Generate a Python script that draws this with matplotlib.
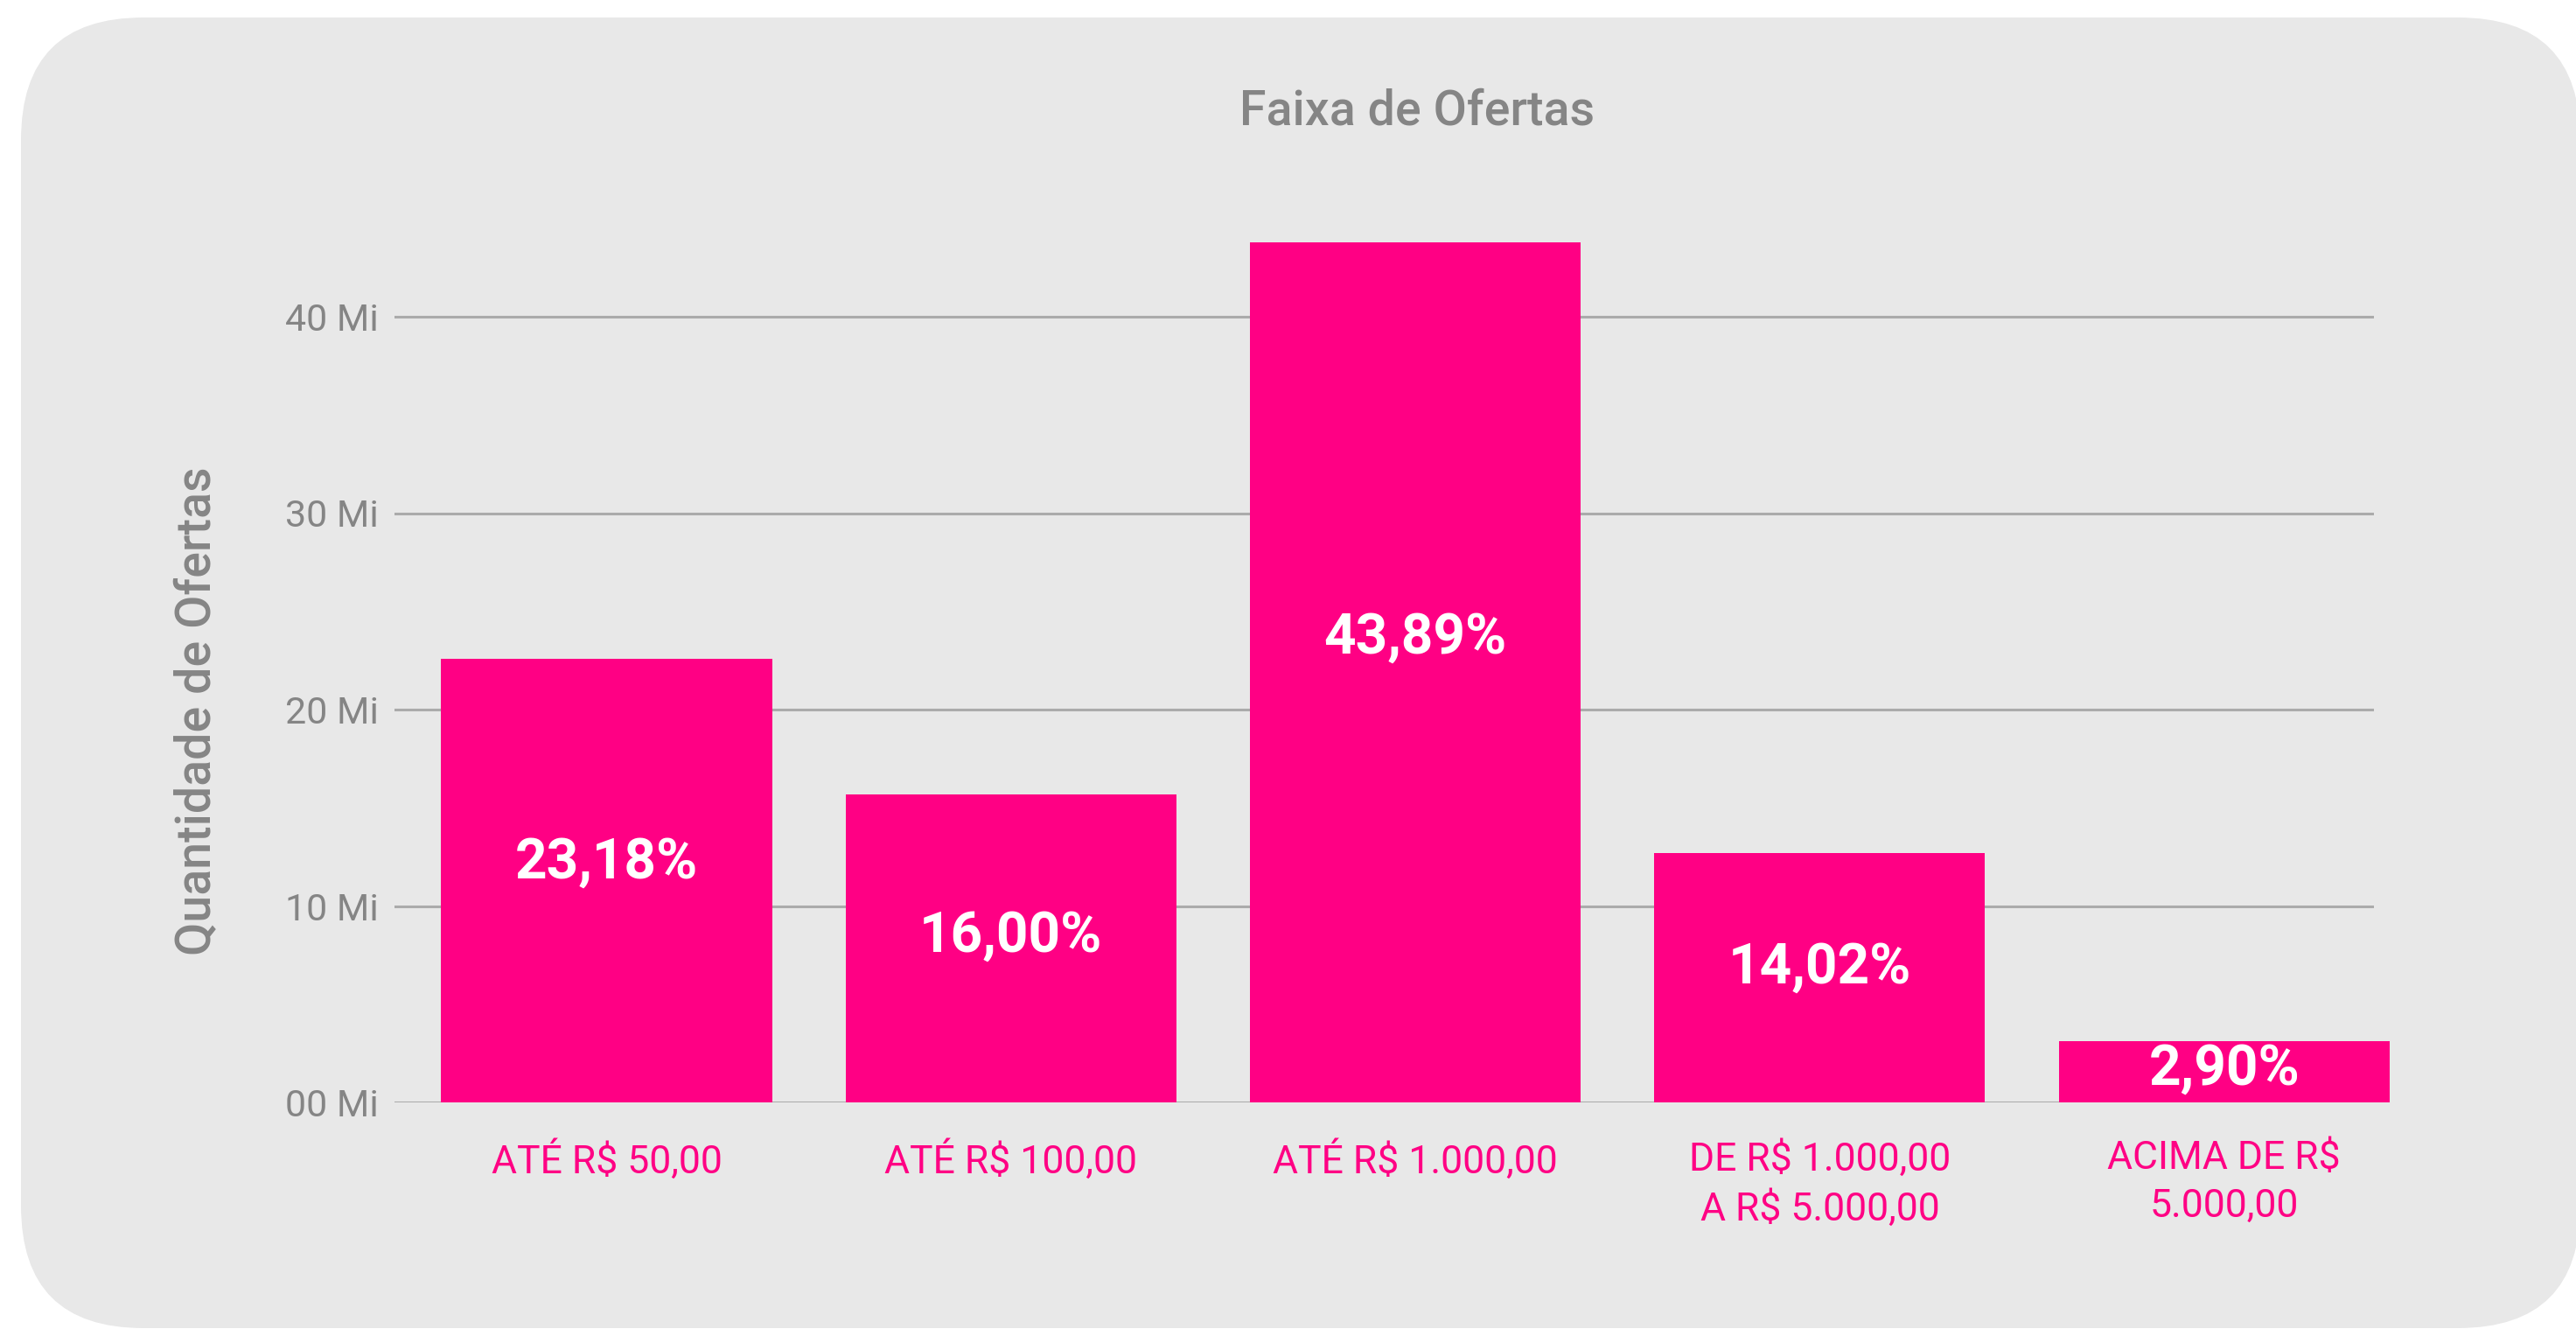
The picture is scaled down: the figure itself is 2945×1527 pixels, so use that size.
import matplotlib.pyplot as plt
from matplotlib.patches import FancyBboxPatch

# Dados
faixas = ["ATÉ R$ 50,00", "ATÉ R$ 100,00", "ATÉ R$ 1.000,00",
          "DE R$ 1.000,00\nA R$ 5.000,00", "ACIMA DE R$\n5.000,00"]
ofertas_mi = [22.6, 15.7, 43.8, 12.7, 3.1]
percentuais = ["23,18%", "16,00%", "43,89%", "14,02%", "2,90%"]
y_ticks = [0, 10, 20, 30, 40]

rosa = "#FF0084"
cinza_txt = "#858585"
fundo = "#E8E8E8"

plt.rcParams['font.family'] = ['Roboto', 'DejaVu Sans']

W, H = 2945, 1527
fig = plt.figure(figsize=(W / 100, H / 100), dpi=100)
fig.patch.set_facecolor("white")

# painel cinza com cantos arredondados (em pixels)
bg = fig.add_axes([0, 0, 1, 1], zorder=0)
bg.set_xlim(0, W)
bg.set_ylim(0, H)
bg.axis("off")
painel = FancyBboxPatch((24, 9), 2950 - 24, 1518 - 20,
                        boxstyle="round,pad=0,rounding_size=140",
                        facecolor=fundo, edgecolor="none")
bg.add_patch(painel)

# eixo principal
ax = fig.add_axes([451 / W, 267 / H, (2714 - 451) / W, 46 * 22.45 / H], zorder=1)
ax.set_facecolor("none")
x = range(len(faixas))
bars = ax.bar(x, ofertas_mi, width=0.818, color=rosa, zorder=3, clip_on=False)

ax.set_xlim(-0.5245, 4.3705)
ax.set_ylim(0, 46)
ax.set_yticks(y_ticks)
ax.set_yticklabels([f"{v:02d} Mi" for v in y_ticks])
ax.yaxis.grid(True, color="#ABABAB", linewidth=2.2, zorder=0)
ax.set_axisbelow(True)
for s in ax.spines.values():
    s.set_visible(False)
ax.tick_params(axis="y", length=0, pad=13, labelsize=31, labelcolor=cinza_txt)
ax.tick_params(axis="x", length=0, pad=31, labelsize=32, labelcolor=rosa)
ax.set_xticks(list(x))
ax.set_xticklabels(faixas, linespacing=1.4)

# rótulos de percentual dentro das barras
for b, v, p in zip(bars, ofertas_mi, percentuais):
    ax.text(b.get_x() + b.get_width() / 2, v * 0.54, p, ha="center", va="center",
            color="white", fontsize=46, fontweight="bold", zorder=4)

ax.set_ylabel("Quantidade de Ofertas", fontsize=40, color=cinza_txt,
              fontweight="medium")
ax.yaxis.set_label_coords(-0.088, 0.433)

fig.text(1620 / W, 1 - 127 / H, "Faixa de Ofertas", ha="center", va="center",
         fontsize=40, fontweight="medium", color=cinza_txt)

fig.savefig("out.png", dpi=100, facecolor="white")
